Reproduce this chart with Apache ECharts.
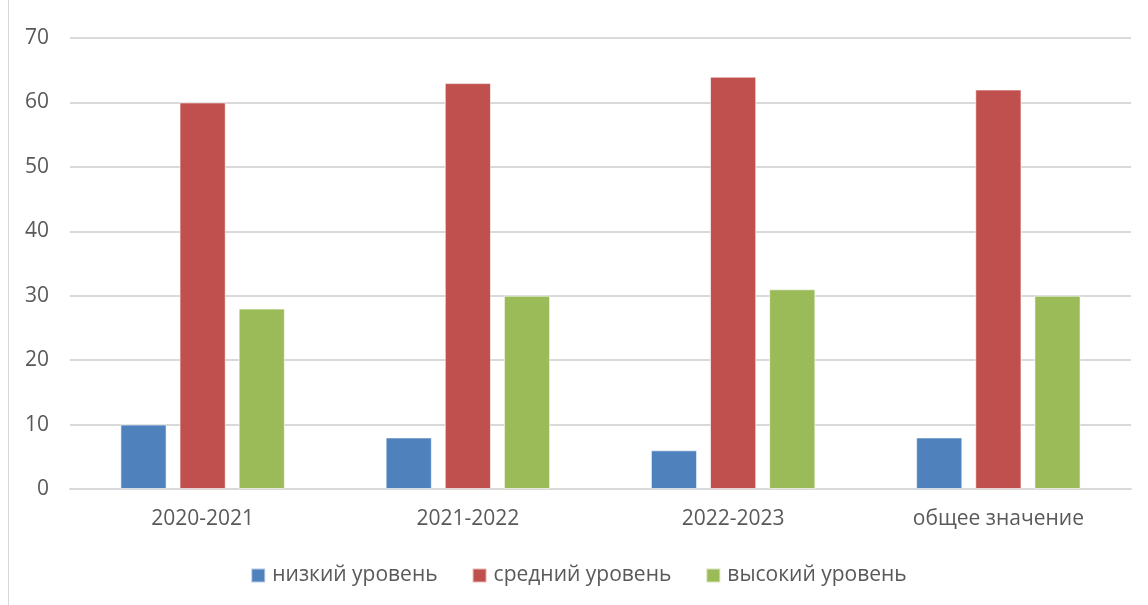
<!DOCTYPE html>
<html>
<head>
<meta charset="utf-8">
<script src="https://cdn.jsdelivr.net/npm/echarts@6/dist/echarts.min.js"></script>
<style>
  html, body { margin: 0; padding: 0; background: #fff; }
  #frame { position: absolute; left: 8px; top: 0; width: 1140px; height: 605px; border-left: 1px solid #d9d9d9; }
  #chart { width: 1139px; height: 605px; }
</style>
</head>
<body>
<div id="frame"><div id="chart"></div></div>
<script>
// данные
var categories = ['2020-2021', '2021-2022', '2022-2023', 'общее значение'];
var seriesNames = ['низкий уровень', 'средний уровень', 'высокий уровень'];
var lowLevel = [10, 8, 6, 8];
var midLevel = [60, 63, 64, 62];
var highLevel = [28, 30, 31, 30];
var yTicks = { min: 0, max: 70, interval: 10 };

var chart = echarts.init(document.getElementById('chart'));
var font = 'Open Sans, Noto Sans, sans-serif';
function bar(name, data, color) {
    return {
        name: name, type: 'bar', data: data,
        barGap: '28%', barCategoryGap: '38%',
        itemStyle: { color: color, borderColor: 'rgba(255,255,255,0.6)', borderWidth: 1 }
    };
}
chart.setOption({
    animation: false,
    color: ['#4F81BD', '#C0504D', '#9BBB59'],
    grid: { left: 61, right: 17, top: 38, bottom: 116 },
    legend: {
        bottom: 14, left: 'center',
        icon: 'rect', itemWidth: 14, itemHeight: 14, itemGap: 34,
        textStyle: { fontFamily: font, fontSize: 21, color: '#595959', padding: [0, 0, 0, 2] },
        data: seriesNames
    },
    xAxis: {
        type: 'category', data: categories,
        axisLine: { lineStyle: { color: '#d9d9d9', width: 2 } },
        axisTick: { show: false },
        axisLabel: { fontFamily: font, fontSize: 21, color: '#595959', margin: 20 }
    },
    yAxis: {
        type: 'value', min: yTicks.min, max: yTicks.max, interval: yTicks.interval,
        axisLine: { show: false }, axisTick: { show: false },
        splitLine: { lineStyle: { color: '#d9d9d9', width: 2 } },
        axisLabel: { fontFamily: font, fontSize: 21, color: '#595959', margin: 21 }
    },
    series: [
        bar(seriesNames[0], lowLevel, '#4F81BD'),
        bar(seriesNames[1], midLevel, '#C0504D'),
        bar(seriesNames[2], highLevel, '#9BBB59')
    ]
});
</script>
</body>
</html>
